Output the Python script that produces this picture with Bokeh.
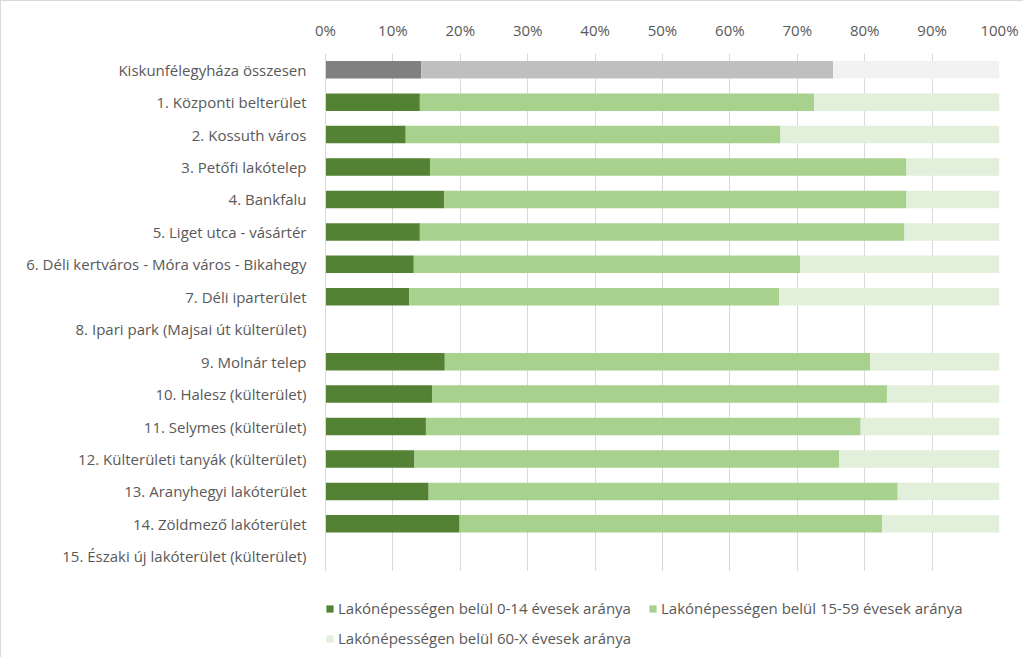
from bokeh.plotting import figure
from bokeh.layouts import column
from bokeh.models import (ColumnDataSource, FactorRange, Legend, LegendItem,
                          PrintfTickFormatter, FixedTicker)
from bokeh.embed import file_html
from bokeh.resources import INLINE
import numpy as np

categories = [
    "Kiskunfélegyháza összesen",
    "1. Központi belterület",
    "2. Kossuth város",
    "3. Petőfi lakótelep",
    "4. Bankfalu",
    "5. Liget utca - vásártér",
    "6. Déli kertváros - Móra város - Bikahegy",
    "7. Déli iparterület",
    "8. Ipari park (Majsai út külterület)",
    "9. Molnár telep",
    "10. Halesz (külterület)",
    "11. Selymes (külterület)",
    "12. Külterületi tanyák (külterület)",
    "13. Aranyhegyi lakóterület",
    "14. Zöldmező lakóterület",
    "15. Északi új lakóterület (külterület)",
]
# shares in percent (NaN = no data)
age_0_14 = [14.2, 14.0, 11.9, 15.5, 17.6, 14.0, 13.1, 12.4, np.nan, 17.7, 15.8, 14.9, 13.2, 15.3, 19.9, np.nan]
age_15_59 = [61.1, 58.5, 55.6, 70.7, 68.6, 71.9, 57.3, 54.9, np.nan, 63.1, 67.5, 64.5, 63.0, 69.6, 62.7, np.nan]
age_60_x = [24.7, 27.5, 32.5, 13.8, 13.8, 14.1, 29.6, 32.7, np.nan, 19.2, 16.7, 20.6, 23.8, 15.1, 17.4, np.nan]
series_names = [
    "Lakónépességen belül 0-14 évesek aránya",
    "Lakónépességen belül 15-59 évesek aránya",
    "Lakónépességen belül 60-X évesek aránya",
]
x_ticks = [0, 10, 20, 30, 40, 50, 60, 70, 80, 90, 100]

green = ["#548235", "#a9d18e", "#e2efda"]
gray = ["#808080", "#bfbfbf", "#f2f2f2"]
FONT = "Open Sans"
FS = "15px"
TXT = "#595959"
BORDER = "1px solid #d9d9d9"

a = np.array(age_0_14)
b = np.array(age_15_59)
c = np.array(age_60_x)
left = [np.zeros_like(a), a, a + b]
right = [a, a + b, a + b + c]

p = figure(frame_width=673, frame_height=518, output_backend="svg", toolbar_location=None,
           y_range=FactorRange(*categories[::-1]), x_range=(0, 100),
           x_axis_location="above", min_border_left=324, min_border_right=25,
           min_border_top=52, min_border_bottom=0)
p.outline_line_color = None
p.styles = {"border-left": BORDER, "border-top": BORDER}

for k in range(3):
    src_total = ColumnDataSource(dict(y=categories[:1], l=left[k][:1], r=right[k][:1]))
    p.hbar(y="y", left="l", right="r", height=0.54, source=src_total,
           fill_color=gray[k], line_color=None)
    src = ColumnDataSource(dict(y=categories[1:], l=left[k][1:], r=right[k][1:]))
    p.hbar(y="y", left="l", right="r", height=0.54, source=src,
           fill_color=green[k], line_color=None)

xa = p.xaxis[0]
xa.ticker = FixedTicker(ticks=x_ticks)
xa.formatter = PrintfTickFormatter(format="%d%%")
xa.axis_line_color = None
xa.major_tick_line_color = None
xa.minor_tick_line_color = None
xa.major_label_text_font = FONT
xa.major_label_text_font_size = FS
xa.major_label_text_color = TXT
xa.major_label_standoff = 8

ya = p.yaxis[0]
ya.axis_line_color = "#d9d9d9"
ya.major_tick_line_color = None
ya.minor_tick_line_color = None
ya.major_label_text_font = FONT
ya.major_label_text_font_size = FS
ya.major_label_text_color = TXT
ya.major_label_standoff = 13

p.xgrid.grid_line_color = "#d9d9d9"
p.ygrid.grid_line_color = None

# legend strip below the chart
p2 = figure(width=1022, height=86, output_backend="svg", toolbar_location=None,
            x_axis_type=None, y_axis_type=None, min_border=0,
            x_range=(0, 1), y_range=(0, 1))
p2.outline_line_color = None
p2.grid.grid_line_color = None
p2.styles = {"border-left": BORDER}
legend_renderers = []
for k in range(3):
    lsrc = ColumnDataSource(dict(l=[np.nan], r=[np.nan], t=[np.nan], b=[np.nan]))
    lr = p2.quad(left="l", right="r", top="t", bottom="b", source=lsrc,
                 fill_color=green[k], line_color=None)
    legend_renderers.append(lr)

order = [0, 2, 1]  # legend fills column-wise
legend = Legend(items=[LegendItem(label=series_names[k], renderers=[legend_renderers[k]]) for k in order],
                ncols=2, label_width=300, glyph_width=9, glyph_height=9,
                label_text_font=FONT, label_text_font_size=FS, label_text_color=TXT,
                border_line_color=None, background_fill_alpha=0, spacing=10, padding=0,
                margin=0, label_standoff=4, location=(0, 9))
p2.add_layout(legend, "center")

layout = column(p, p2, spacing=0)
open("out.html", "w").write(file_html(layout, INLINE))
